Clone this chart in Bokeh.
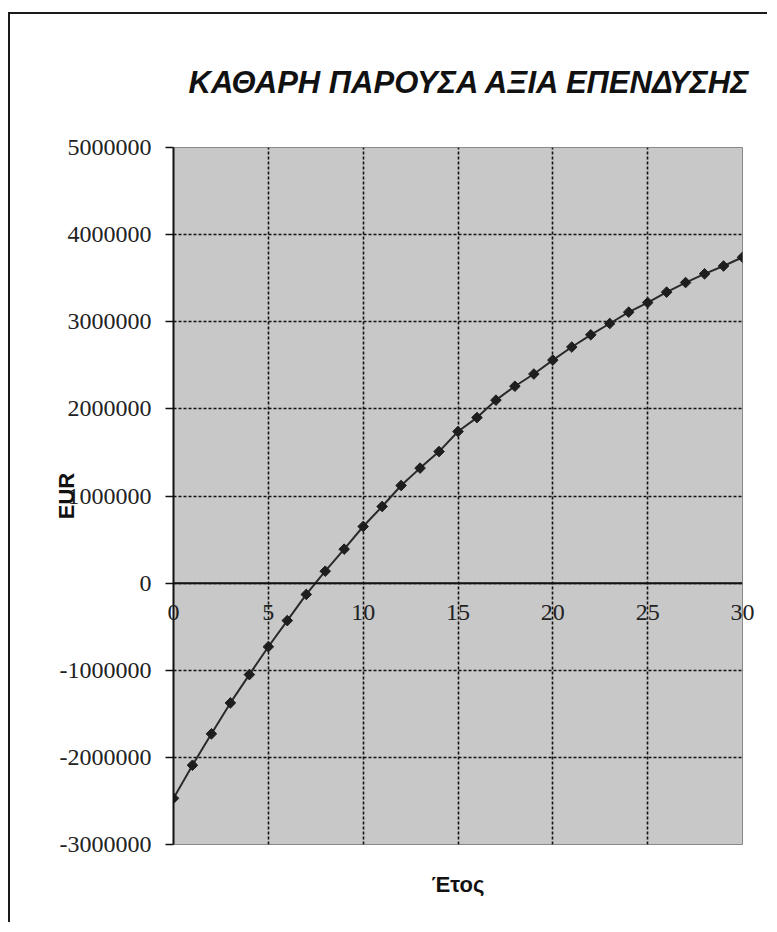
import math
from bokeh.plotting import figure
from bokeh.models import FixedTicker, Range1d, NumeralTickFormatter, Span
from bokeh.embed import file_html
from bokeh.resources import INLINE

# ---- data ----
years = list(range(0, 31))
npv = [-2470000, -2090000, -1730000, -1375000, -1050000, -730000, -430000, -130000,
       137000, 390000, 650000, 880000, 1120000, 1320000, 1510000, 1740000,
       1900000, 2100000, 2260000, 2400000, 2560000, 2710000, 2850000, 2980000,
       3110000, 3220000, 3340000, 3450000, 3550000, 3640000, 3740000]
x_ticks = [0, 5, 10, 15, 20, 25, 30]
y_ticks = [-3000000, -2000000, -1000000, 0, 1000000, 2000000, 3000000, 4000000, 5000000]
title_text = "ΚΑΘΑΡΗ ΠΑΡΟΥΣΑ ΑΞΙΑ ΕΠΕΝΔΥΣΗΣ"
x_label = "Έτος"
y_label = "EUR"

p = figure(width=759, height=910, output_backend="svg", toolbar_location=None,
           x_range=Range1d(0, 30), y_range=Range1d(-3000000, 5000000),
           min_border_left=163, min_border_right=27, min_border_top=133, min_border_bottom=80)
p.styles = {"border-left": "2px solid #1a1a1a", "border-top": "2px solid #1a1a1a"}
p.margin = (12, 0, 0, 8)

p.title.text = title_text
p.title.align = "left"
p.title.text_font = "'Liberation Sans Narrow', 'Arial Narrow', 'Liberation Sans', sans-serif"
p.title.text_font_style = "bold italic"
p.title.text_font_size = "31px"
p.title.text_color = "#111111"
p.title.standoff = 96
p.title.offset = 15

p.background_fill_color = "#c8c8c8"
p.border_fill_color = "white"
p.outline_line_color = "#888888"
p.outline_line_width = 1

# grids
p.xgrid.ticker = FixedTicker(ticks=x_ticks)
p.ygrid.ticker = FixedTicker(ticks=y_ticks)
for g in (p.xgrid, p.ygrid):
    g.grid_line_color = "#111111"
    g.grid_line_dash = "3 2"
    g.grid_line_width = 1.6

# y axis
p.yaxis.ticker = FixedTicker(ticks=y_ticks)
p.yaxis.formatter = NumeralTickFormatter(format="0")
p.yaxis.axis_line_color = "#111111"
p.yaxis.axis_line_width = 2
p.yaxis.major_tick_out = 8
p.yaxis.major_tick_in = 0
p.yaxis.major_tick_line_color = "#111111"
p.yaxis.major_tick_line_width = 1.5
p.yaxis.minor_tick_line_color = None
p.yaxis.major_label_text_font = "Liberation Serif"
p.yaxis.major_label_text_font_size = "24px"
p.yaxis.major_label_text_color = "#222222"
p.yaxis.major_label_standoff = 14
p.yaxis.axis_label = y_label
p.yaxis.axis_label_text_font = "Liberation Sans"
p.yaxis.axis_label_text_font_style = "bold"
p.yaxis.axis_label_text_font_size = "22px"
p.yaxis.axis_label_text_color = "#111111"
p.yaxis.axis_label_standoff = -22

# x axis: its tick labels are lifted up to sit just under the zero line
p.xaxis.ticker = FixedTicker(ticks=x_ticks)
p.xaxis.axis_line_color = None
p.xaxis.major_tick_out = 0
p.xaxis.major_tick_in = 0
p.xaxis.minor_tick_out = 0
p.xaxis.minor_tick_in = 0
p.xaxis.major_label_text_font = "Liberation Serif"
p.xaxis.major_label_text_font_size = "24px"
p.xaxis.major_label_text_color = "#222222"
p.xaxis.major_label_standoff = -240
p.xaxis.axis_label = x_label
p.xaxis.axis_label_text_font = "Liberation Sans"
p.xaxis.axis_label_text_font_style = "bold"
p.xaxis.axis_label_text_font_size = "22px"
p.xaxis.axis_label_text_color = "#111111"
p.xaxis.axis_label_standoff = 249

# zero line where the category axis crosses
p.add_layout(Span(location=0, dimension="width", line_color="#111111", line_width=2))

# series
p.line(years, npv, line_color="#2a2a2a", line_width=2)
p.scatter(years, npv, marker="square", size=7.5, angle=math.pi / 4,
          fill_color="#1e1e1e", line_color="#1e1e1e")

open("out.html", "w").write(file_html(p, INLINE))
